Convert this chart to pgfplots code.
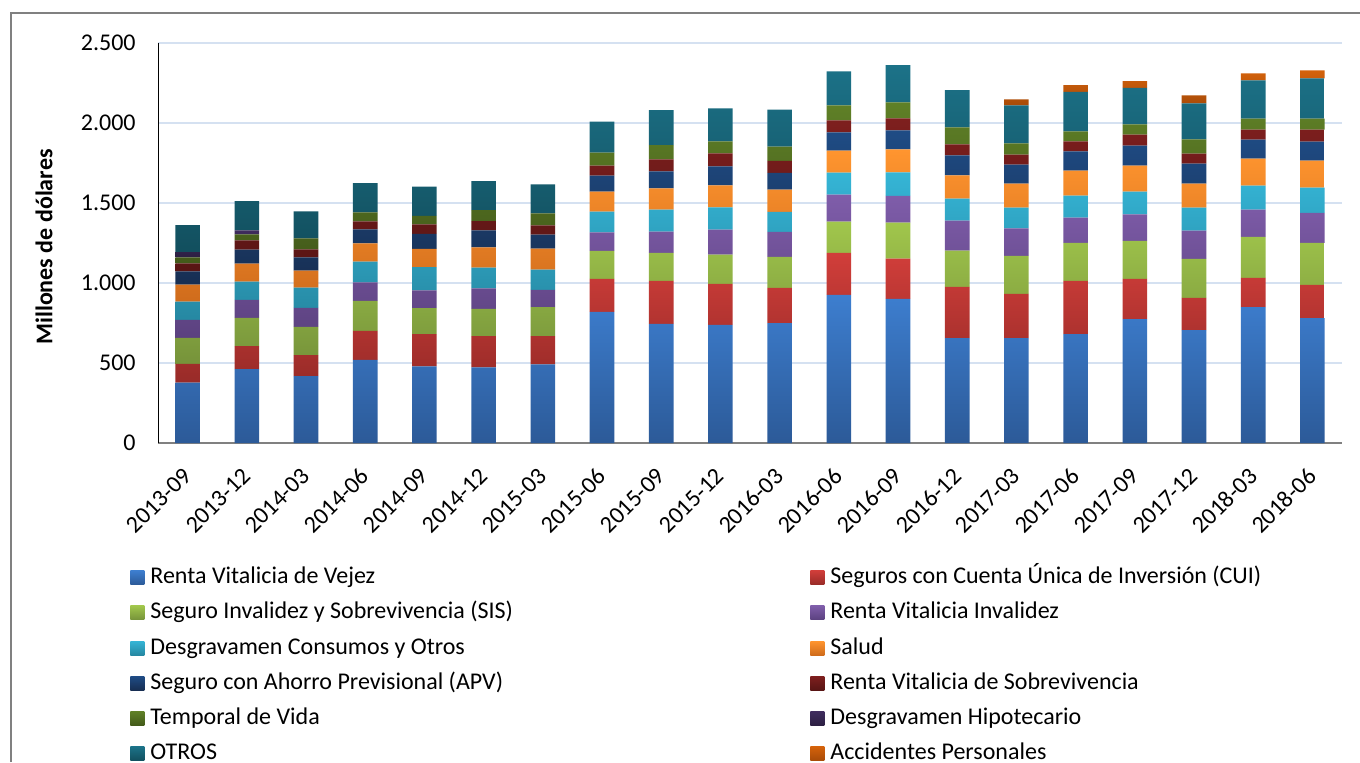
\documentclass[border=0pt]{standalone}
\usepackage{fontspec}
\setmainfont{Carlito}
\usepackage{pgfplots}
\pgfplotsset{compat=1.18}
\usepackage{pgfplotstable}

\definecolor{aT}{HTML}{3D7ECF}\definecolor{aB}{HTML}{2C5A98}
\definecolor{bT}{HTML}{D13E3A}\definecolor{bB}{HTML}{982B28}
\definecolor{cT}{HTML}{A1C64C}\definecolor{cB}{HTML}{76933A}
\definecolor{dT}{HTML}{7F5DAA}\definecolor{dB}{HTML}{5B417F}
\definecolor{eT}{HTML}{35B5D6}\definecolor{eB}{HTML}{2688A2}
\definecolor{fT}{HTML}{FF952F}\definecolor{fB}{HTML}{D06C1C}
\definecolor{gT}{HTML}{1F4C85}\definecolor{gB}{HTML}{172E52}
\definecolor{hT}{HTML}{7E1F1E}\definecolor{hB}{HTML}{581514}
\definecolor{iT}{HTML}{5F8027}\definecolor{iB}{HTML}{435A1A}
\definecolor{jT}{HTML}{3F2C5E}\definecolor{jB}{HTML}{2C1F42}
\definecolor{kT}{HTML}{1C7288}\definecolor{kB}{HTML}{124F5E}
\definecolor{lT}{HTML}{D4620B}\definecolor{lB}{HTML}{A84B08}
\definecolor{gridc}{HTML}{D5E1F1}

\pgfplotstableread{
idx rvv cui sis rvi dco sal apv rvs tem dhi otr acc
0  377 117 163 113 113 107  82 50  38 33 168  0
1  462 144 176 113 113 113  88 57  38 25 182  0
2  418 132 176 119 126 107  82 50  69  0 169  0
3  519 182 188 115 130 113  88 50  57  0 182  0
4  479 201 163 111 146 113  94 59  54  0 182  0
5  473 195 170 128 130 126 107 57  69  0 182  0
6  492 176 182 107 126 132  88 57  75  0 182  0
7  819 207 175 115 130 125 100 63  81  0 194  0
8  744 270 175 132 138 132 107 75  88  0 219  0
9  738 257 182 157 138 138 119 81  75  0 207  0
10 750 219 194 157 125 138 106 75  88  0 232  0
11 926 263 194 169 138 138 113 75  94  0 213  0
12 901 251 226 167 146 144 119 75 100  0 232  0
13 656 320 226 188 138 144 125 69 107  0 232  0
14 656 276 238 171 130 150 119 63  69  0 238 38
15 681 332 238 157 138 157 119 63  63  0 247 42
16 775 251 238 165 142 163 125 69  63  0 228 42
17 706 201 244 176 144 150 125 63  88  0 226 50
18 850 182 257 169 150 169 119 63  69  0 238 44
19 781 207 263 188 157 169 119 75  69  0 251 50
}\data

\newcommand\fs{\fontsize{12pt}{14pt}\selectfont}
\newcommand\lw[1]{\makebox[327pt][l]{#1}}

\begin{document}
\begin{tikzpicture}
\useasboundingbox (0,0) rectangle (680pt,381pt);
\fill[white] (0,0) rectangle (680pt,381pt);
\draw[color=black!50, line width=0.6pt] (5.5pt,0) -- (5.5pt,374.5pt) -- (680pt,374.5pt);
\begin{axis}[
  at={(79pt,159.5pt)}, anchor=south west,
  scale only axis, width=592pt, height=200pt,
  ybar stacked, bar width=12.3pt,
  xmin=-0.5, xmax=19.5, ymin=0, ymax=2500,
  xtick={0,...,19},
  xticklabels={2013-09,2013-12,2014-03,2014-06,2014-09,2014-12,2015-03,2015-06,2015-09,2015-12,2016-03,2016-06,2016-09,2016-12,2017-03,2017-06,2017-09,2017-12,2018-03,2018-06},
  ytick={0,500,...,2500},
  ymajorgrids, grid style={color=gridc, line width=0.8pt},
  major tick length=0pt,
  axis x line*=bottom, axis y line*=left,
  x axis line style={color=black!50, line width=0.8pt},
  y axis line style={color=black, line width=0.5pt},
  /pgf/number format/assume math mode=true,
  /pgf/number format/1000 sep={.},
  yticklabel style={font=\fs, inner sep=0pt, xshift=-11pt},
  xticklabel style={font=\fs, inner sep=0pt, yshift=-14.5pt, rotate=45, anchor=east},
  ylabel={\bfseries Millones de dólares},
  ylabel style={font=\fs, at={(axis description cs:-0.0963,0.49)}, anchor=center},
  legend columns=2,
  legend cell align=left,
  legend style={draw=none, fill=none, font=\fs, column sep=0pt, row sep=6.6pt,
    at={(axis description cs:-0.0287,-0.298)}, anchor=north west,
    nodes={inner xsep=3pt, inner ysep=0pt, text height=8.5pt, text depth=2.5pt}},
  legend image code/.code={\draw[#1, draw=none] (0pt,-3.5pt) rectangle (7pt,3.5pt);},
]
\addplot[draw=none, top color=aT, bottom color=aB] table[x=idx, y=rvv]{\data};
\addlegendentry{\lw{Renta Vitalicia de Vejez}}
\addplot[draw=none, top color=bT, bottom color=bB] table[x=idx, y=cui]{\data};
\addlegendentry{Seguros con Cuenta Única de Inversión (CUI)}
\addplot[draw=none, top color=cT, bottom color=cB] table[x=idx, y=sis]{\data};
\addlegendentry{\lw{Seguro Invalidez y Sobrevivencia (SIS)}}
\addplot[draw=none, top color=dT, bottom color=dB] table[x=idx, y=rvi]{\data};
\addlegendentry{Renta Vitalicia Invalidez}
\addplot[draw=none, top color=eT, bottom color=eB] table[x=idx, y=dco]{\data};
\addlegendentry{\lw{Desgravamen Consumos y Otros}}
\addplot[draw=none, top color=fT, bottom color=fB] table[x=idx, y=sal]{\data};
\addlegendentry{Salud}
\addplot[draw=none, top color=gT, bottom color=gB] table[x=idx, y=apv]{\data};
\addlegendentry{\lw{Seguro con Ahorro Previsional (APV)}}
\addplot[draw=none, top color=hT, bottom color=hB] table[x=idx, y=rvs]{\data};
\addlegendentry{Renta Vitalicia de Sobrevivencia}
\addplot[draw=none, top color=iT, bottom color=iB] table[x=idx, y=tem]{\data};
\addlegendentry{\lw{Temporal de Vida}}
\addplot[draw=none, top color=jT, bottom color=jB] table[x=idx, y=dhi]{\data};
\addlegendentry{Desgravamen Hipotecario}
\addplot[draw=none, top color=kT, bottom color=kB] table[x=idx, y=otr]{\data};
\addlegendentry{\lw{OTROS}}
\addplot[draw=none, top color=lT, bottom color=lB] table[x=idx, y=acc]{\data};
\addlegendentry{Accidentes Personales}
\end{axis}
\end{tikzpicture}
\end{document}
